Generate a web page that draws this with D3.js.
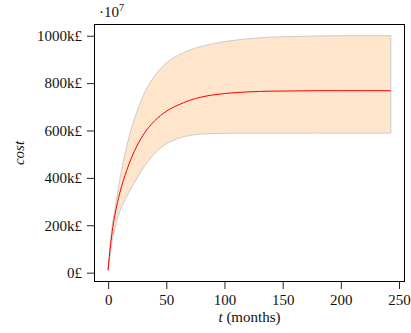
<!DOCTYPE html>
<html>
<head>
<meta charset="utf-8">
<script src="https://cdn.jsdelivr.net/npm/d3@7"></script>
<style>
  body { margin: 0; background: #fff; }
  text { font-family: "Liberation Serif", "DejaVu Serif", serif; fill: #111; }
</style>
</head>
<body>
<div id="chart"></div>
<script>
// months
const months = [0, 1, 2, 4, 6, 8, 10, 13, 16, 20, 25, 30, 35, 40, 45, 50, 60, 70, 80, 90, 100, 120, 140, 160, 180, 200, 220, 243];
// cost in k£
const costMean = [10, 68, 114, 190, 248, 295, 336, 388, 432, 484, 538, 580, 614, 641, 663, 681, 707, 727, 741, 750, 756, 763, 766, 767, 768, 768, 768, 768];
const costUpper = [10, 78, 133, 215, 275, 333, 393, 468, 534, 608, 682, 745, 793, 831, 861, 885, 917, 939, 955, 966, 975, 987, 994, 997, 999, 1000, 1000, 1000];
const costLower = [10, 50, 86, 146, 192, 228, 258, 292, 322, 358, 400, 440, 474, 503, 526, 544, 566, 579, 585, 587, 588, 589, 589, 589, 589, 589, 589, 589];
const xTicks = [0, 50, 100, 150, 200, 250];
const yTicks = [0, 200, 400, 600, 800, 1000];

const W = 411, H = 333;
const margin = { left: 94, right: 6, top: 24, bottom: 51 };

const svg = d3.select('#chart').append('svg')
  .attr('width', W)
  .attr('height', H);

// 5% padding around the data, like the original plot
const xExt = d3.extent(months);
const xPad = (xExt[1] - xExt[0]) * 0.05;
const yMin = d3.min(costLower), yMax = d3.max(costUpper);
const yPad = (yMax - yMin) * 0.05;

const x = d3.scaleLinear()
  .domain([xExt[0] - xPad, xExt[1] + xPad])
  .range([margin.left, W - margin.right]);
const y = d3.scaleLinear()
  .domain([yMin - yPad, yMax + yPad])
  .range([H - margin.bottom, margin.top]);

const rows = months.map((t, i) => ({ t, mean: costMean[i], lo: costLower[i], hi: costUpper[i] }));

// band
const band = d3.area()
  .x(d => x(d.t))
  .y0(d => y(d.lo))
  .y1(d => y(d.hi))
  .curve(d3.curveMonotoneX);

svg.append('path')
  .datum(rows)
  .attr('d', band)
  .attr('fill', '#fee5cb')
  .attr('stroke', '#cccccc')
  .attr('stroke-width', 1);

// mean line
const line = d3.line()
  .x(d => x(d.t))
  .y(d => y(d.mean))
  .curve(d3.curveMonotoneX);

svg.append('path')
  .datum(rows)
  .attr('d', line)
  .attr('fill', 'none')
  .attr('stroke', '#ff0000')
  .attr('stroke-width', 1);

// axes
const xAxis = svg.append('g')
  .attr('transform', `translate(0,${H - margin.bottom})`)
  .call(d3.axisBottom(x).tickValues(xTicks).tickSize(7).tickPadding(5));
const yAxis = svg.append('g')
  .attr('transform', `translate(${margin.left},0)`)
  .call(d3.axisLeft(y).tickValues(yTicks).tickSize(7).tickPadding(5)
    .tickFormat(d => d === 0 ? '0£' : d + 'k£'));

[xAxis, yAxis].forEach(g => {
  g.select('.domain').remove();
  g.selectAll('.tick line').attr('stroke', '#222');
  g.selectAll('.tick text')
    .attr('font-size', 15)
    .attr('font-family', '"Liberation Serif", serif')
    .attr('fill', '#111');
});

// frame
svg.append('rect')
  .attr('x', margin.left + 0.5)
  .attr('y', margin.top + 0.5)
  .attr('width', W - margin.left - margin.right - 1)
  .attr('height', H - margin.top - margin.bottom - 1)
  .attr('fill', 'none')
  .attr('stroke', '#000')
  .attr('stroke-width', 1);

// multiplier
const mult = svg.append('text')
  .attr('x', 99)
  .attr('y', 17)
  .attr('font-size', 15);
mult.append('tspan').text('·10');
mult.append('tspan').attr('font-size', 10).attr('dy', -6).text('7');

// axis labels
const xl = svg.append('text')
  .attr('x', (margin.left + W - margin.right) / 2)
  .attr('y', 322)
  .attr('text-anchor', 'middle')
  .attr('font-size', 15);
xl.append('tspan').attr('font-style', 'italic').text('t');
xl.append('tspan').text(' (months)');

svg.append('text')
  .attr('transform', `translate(24,${(margin.top + H - margin.bottom) / 2}) rotate(-90)`)
  .attr('text-anchor', 'middle')
  .attr('font-size', 15)
  .attr('font-style', 'italic')
  .text('cost');
</script>
</body>
</html>
